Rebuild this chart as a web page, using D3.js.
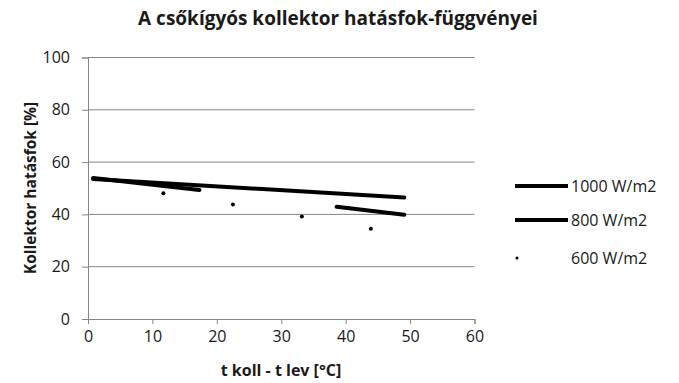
<!DOCTYPE html>
<html>
<head>
<meta charset="utf-8">
<script src="https://cdn.jsdelivr.net/npm/d3@7"></script>
<style>
  html, body { margin: 0; padding: 0; background: #fff; }
  svg { display: block; font-family: "Open Sans", sans-serif; }
</style>
</head>
<body>
<svg id="chart" width="679" height="383"></svg>
<script>
// Collector efficiency curves, η [%] against (t koll − t lev) [°C]
const seriesNames = ["1000 W/m2", "800 W/m2", "600 W/m2"];

// 1000 W/m2 – continuous line
const x1000 = [0.8, 49.1];
const y1000 = [53.5, 46.5];

// 800 W/m2 – line with a gap in the middle (null = no value)
const x800 = [0.8, 17.3, null, 38.6, 49.1];
const y800 = [53.9, 49.3, null, 42.9, 39.9];

// 600 W/m2 – markers only
const x600 = [11.7, 22.5, 33.2, 43.9];
const y600 = [48.1, 43.8, 39.2, 34.5];

const xTicks = [0, 10, 20, 30, 40, 50, 60];
const yTicks = [0, 20, 40, 60, 80, 100];

const svg = d3.select("#chart");
const plotLeft = 88, plotRight = 474.5, plotTop = 57.5, plotBottom = 319;

const x = d3.scaleLinear().domain([0, 60]).range([plotLeft, plotRight]);
const y = d3.scaleLinear().domain([0, 100]).range([plotBottom, plotTop]);

const gridColor = "#868686";
const textColor = "#1a1a1a";
const font = "'Open Sans', sans-serif";

// horizontal gridlines
svg.append("g")
  .selectAll("line")
  .data(yTicks.filter(d => d > 0))
  .join("line")
  .attr("x1", plotLeft).attr("x2", plotRight)
  .attr("y1", d => y(d)).attr("y2", d => y(d))
  .attr("stroke", gridColor).attr("stroke-width", 1);

// y axis
const yAxis = svg.append("g")
  .attr("transform", `translate(${plotLeft},0)`)
  .call(d3.axisLeft(y).tickValues(yTicks).tickSize(6).tickPadding(12));
yAxis.select(".domain").attr("stroke", gridColor);
yAxis.selectAll(".tick line").attr("stroke", gridColor);
yAxis.selectAll(".tick text")
  .attr("fill", textColor).style("font-size", "16px")
  .style("font-family", font);

// x axis
const xAxis = svg.append("g")
  .attr("transform", `translate(0,${plotBottom})`)
  .call(d3.axisBottom(x).tickValues(xTicks).tickSize(5).tickPadding(7));
xAxis.select(".domain").attr("stroke", gridColor);
xAxis.selectAll(".tick line").attr("stroke", gridColor);
xAxis.selectAll(".tick text")
  .attr("fill", textColor).style("font-size", "16px")
  .style("font-family", font);

// lines
const line = d3.line()
  .defined(d => d[0] !== null && d[1] !== null)
  .x(d => x(d[0])).y(d => y(d[1]));

const data1000 = x1000.map((v, i) => [v, y1000[i]]);
const data800 = x800.map((v, i) => [v, y800[i]]);
const data600 = x600.map((v, i) => [v, y600[i]]);

svg.append("path").datum(data1000)
  .attr("d", line).attr("fill", "none")
  .attr("stroke", "#000").attr("stroke-width", 4).attr("stroke-linecap", "round");

svg.append("path").datum(data800)
  .attr("d", line).attr("fill", "none")
  .attr("stroke", "#000").attr("stroke-width", 4).attr("stroke-linecap", "round");

svg.append("g").selectAll("circle")
  .data(data600).join("circle")
  .attr("cx", d => x(d[0])).attr("cy", d => y(d[1]))
  .attr("r", 2).attr("fill", "#000");

// title
svg.append("text")
  .attr("x", 338).attr("y", 25)
  .attr("text-anchor", "middle")
  .attr("fill", textColor)
  .style("font-size", "19px").style("font-weight", "bold")
  .text("A csőkígyós kollektor hatásfok-függvényei");

// axis titles
svg.append("text")
  .attr("x", 281).attr("y", 376)
  .attr("text-anchor", "middle")
  .attr("fill", textColor)
  .style("font-size", "16px").style("font-weight", "bold")
  .text("t koll - t lev [°C]");

svg.append("text")
  .attr("transform", "translate(36,188) rotate(-90)")
  .attr("text-anchor", "middle")
  .attr("fill", textColor)
  .style("font-size", "15.5px").style("font-weight", "bold")
  .text("Kollektor hatásfok [%]");

// legend
const legendY = [186, 220, 258];
const legend = svg.append("g");
seriesNames.forEach((name, i) => {
  const g = legend.append("g");
  if (i < 2) {
    g.append("line")
      .attr("x1", 515).attr("x2", 568)
      .attr("y1", legendY[i]).attr("y2", legendY[i])
      .attr("stroke", "#000").attr("stroke-width", 4);
  } else {
    g.append("circle")
      .attr("cx", 517).attr("cy", legendY[i]).attr("r", 1.5).attr("fill", "#000");
  }
  g.append("text")
    .attr("x", 571).attr("y", legendY[i])
    .attr("dy", "0.35em")
    .attr("fill", textColor)
    .style("font-size", "16px")
    .text(name);
});
</script>
</body>
</html>
